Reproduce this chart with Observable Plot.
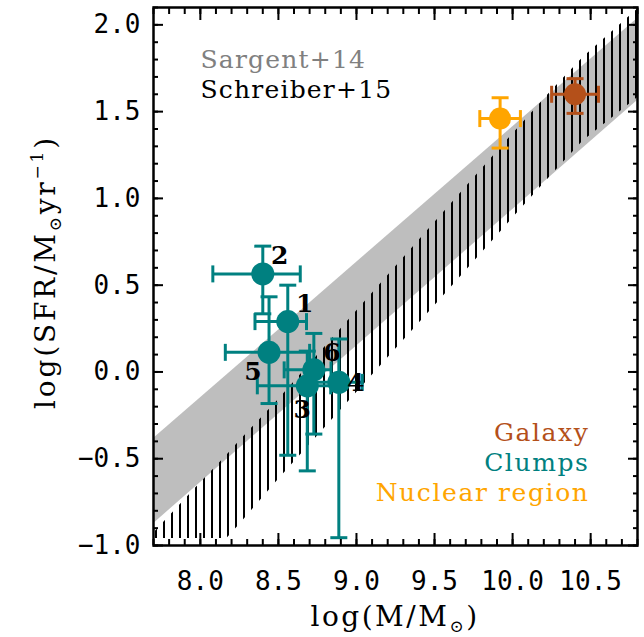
<!DOCTYPE html>
<html><head><meta charset="utf-8">
<script src="https://cdn.jsdelivr.net/npm/d3@7"></script>
<script src="https://cdn.jsdelivr.net/npm/@observablehq/plot@0.6"></script>
<style>body{margin:0;background:#fff;}</style>
</head><body><div id="chart"></div>
<script>
// ---- data ----
const clumpIds       = ["1", "2", "3", "4", "5", "6"];
const clumpMass      = [8.56, 8.40, 8.685, 8.887, 8.44, 8.727];
const clumpMassErrLo = [0.21, 0.32, 0.32, 0.15, 0.28, 0.19];
const clumpMassErrHi = [0.12, 0.24, 0.15, 0.15, 0.26, 0.11];
const clumpSFR       = [0.29, 0.565, -0.08, -0.06, 0.113, 0.012];
const clumpSFRErrLo  = [0.77, 0.23, 0.49, 0.895, 0.295, 0.37];
const clumpSFRErrHi  = [0.21, 0.16, 0.20, 0.25, 0.32, 0.21];

const galaxyMass = [10.40], galaxyMassErr = [0.15], galaxySFR = [1.60], galaxySFRErrLo = [0.11], galaxySFRErrHi = [0.09];
const nuclearMass = [9.92], nuclearMassErr = [0.13], nuclearSFR = [1.46], nuclearSFRErrLo = [0.17], nuclearSFRErrHi = [0.12];

// Sargent+14 band (straight edges)
const sargentMass = [7.7, 10.8];
const sargentLo   = [-0.874, 1.564];
const sargentHi   = [-0.384, 2.037];

// Schreiber+15 band edges
const schreiberMass = [7.70, 8.00, 8.17, 8.25, 8.50, 9.00, 9.50, 10.00, 10.25, 10.45, 10.80];
const schreiberHi   = [-0.93, -0.64, -0.48, -0.40, -0.16, 0.35, 0.86, 1.37, 1.62, 1.81, 2.09];
const schreiberLo   = [-0.96, -0.96, -0.96, -0.88, -0.62, -0.12, 0.38, 0.885, 1.135, 1.33, 1.58];

const xMajor = [8.0, 8.5, 9.0, 9.5, 10.0, 10.5];
const yMajor = [-1.0, -0.5, 0.0, 0.5, 1.0, 1.5, 2.0];
const topLegend = ["Sargent+14", "Schreiber+15"];
const bottomLegend = ["Galaxy", "Clumps", "Nuclear region"];

// ---- layout / style ----
const teal = "#008080", brown = "#b4501a", orange = "#ffa500", gray = "#bebebe";
const labelDx = [17, 17, -5, 17, -16, 18];
const labelDy = [-18, -18, 24, 1, 20, -17];
const fmt = d => d.toFixed(1).replace("-", "\u2212");
const xMinor = d3.range(77, 109).map(d => d / 10);
const yMinor = d3.range(-10, 22).map(d => d / 10);

const clumps = clumpIds.map((id, i) => ({
  id, m: clumpMass[i], s: clumpSFR[i],
  mlo: clumpMass[i] - clumpMassErrLo[i], mhi: clumpMass[i] + clumpMassErrHi[i],
  slo: clumpSFR[i] - clumpSFRErrLo[i], shi: clumpSFR[i] + clumpSFRErrHi[i]
}));
const galaxy = galaxyMass.map((m, i) => ({m, s: galaxySFR[i], mlo: m - galaxyMassErr[i], mhi: m + galaxyMassErr[i], slo: galaxySFR[i] - galaxySFRErrLo[i], shi: galaxySFR[i] + galaxySFRErrHi[i]}));
const nuclear = nuclearMass.map((m, i) => ({m, s: nuclearSFR[i], mlo: m - nuclearMassErr[i], mhi: m + nuclearMassErr[i], slo: nuclearSFR[i] - nuclearSFRErrLo[i], shi: nuclearSFR[i] + nuclearSFRErrHi[i]}));
const sargent = sargentMass.map((m, i) => ({m, lo: sargentLo[i], hi: sargentHi[i]}));
const schreiber = schreiberMass.map((m, i) => ({m, lo: schreiberLo[i], hi: schreiberHi[i]}));

const capH = {draw(ctx, size) { const r = Math.sqrt(size / Math.PI); ctx.moveTo(-r, 0); ctx.lineTo(r, 0); }};
const capV = {draw(ctx, size) { const r = Math.sqrt(size / Math.PI); ctx.moveTo(0, -r); ctx.lineTo(0, r); }};

function errorMarks(data, color, r) {
  const st = {stroke: color, strokeWidth: 3};
  return [
    Plot.ruleX(data, {x: "m", y1: "slo", y2: "shi", ...st}),
    Plot.ruleY(data, {y: "s", x1: "mlo", x2: "mhi", ...st}),
    Plot.dot(data, {x: "m", y: "slo", symbol: capH, r: 8.5, fill: "none", ...st}),
    Plot.dot(data, {x: "m", y: "shi", symbol: capH, r: 8.5, fill: "none", ...st}),
    Plot.dot(data, {x: "mlo", y: "s", symbol: capV, r: 8.5, fill: "none", ...st}),
    Plot.dot(data, {x: "mhi", y: "s", symbol: capV, r: 8.5, fill: "none", ...st}),
    Plot.dot(data, {x: "m", y: "s", r, fill: color, stroke: "none"})
  ];
}

const mono = "DejaVu Sans Mono";
const serif = "DejaVu Serif";
const blank = () => "";

const plot = Plot.plot({
  width: 644, height: 637,
  marginLeft: 153, marginRight: 7, marginTop: 7, marginBottom: 92,
  x: {domain: [7.7, 10.8], label: null},
  y: {domain: [-1.0, 2.1], label: null},
  style: {background: "white", color: "black"},
  marks: [
    Plot.areaY(sargent, {x: "m", y1: "lo", y2: "hi", fill: gray}),
    Plot.areaY(schreiber, {x: "m", y1: "lo", y2: "hi", fill: "url(#hatch)"}),
    ...errorMarks(clumps, teal, 11.5),
    ...errorMarks(nuclear, orange, 11),
    ...errorMarks(galaxy, brown, 11),
    ...clumps.map((c, i) => Plot.text([c], {x: "m", y: "s", text: "id", dx: labelDx[i], dy: labelDy[i],
      fontSize: 25, fontFamily: serif, fontWeight: "bold", fill: "black", textAnchor: "middle", lineAnchor: "middle"})),
    Plot.text([topLegend[0]], {frameAnchor: "top-left", dx: 47, dy: 60, text: d => d, lineAnchor: "bottom", textAnchor: "start",
      fontSize: 25, fontFamily: serif, fill: "#808080"}),
    Plot.text([topLegend[1]], {frameAnchor: "top-left", dx: 47, dy: 90, text: d => d, lineAnchor: "bottom", textAnchor: "start",
      fontSize: 25, fontFamily: serif, fill: "black"}),
    Plot.text([bottomLegend[0]], {frameAnchor: "bottom-right", dx: -48, dy: -105, text: d => d, lineAnchor: "bottom", textAnchor: "end",
      fontSize: 25, fontFamily: serif, fill: brown}),
    Plot.text([bottomLegend[1]], {frameAnchor: "bottom-right", dx: -48, dy: -75, text: d => d, lineAnchor: "bottom", textAnchor: "end",
      fontSize: 25, fontFamily: serif, fill: teal}),
    Plot.text([bottomLegend[2]], {frameAnchor: "bottom-right", dx: -48, dy: -45, text: d => d, lineAnchor: "bottom", textAnchor: "end",
      fontSize: 25, fontFamily: serif, fill: orange}),
    // axes: inward ticks on all four sides
    Plot.axisX(xMajor, {anchor: "bottom", tickSize: -12, tickPadding: 38, tickFormat: fmt, fontSize: 26, fontFamily: mono, strokeWidth: 2, label: null}),
    Plot.axisX(xMinor, {anchor: "bottom", tickSize: -6, tickFormat: blank, strokeWidth: 2, label: null}),
    Plot.axisX(xMajor, {anchor: "top", tickSize: -12, tickFormat: blank, strokeWidth: 2, label: null}),
    Plot.axisX(xMinor, {anchor: "top", tickSize: -6, tickFormat: blank, strokeWidth: 2, label: null}),
    Plot.axisY(yMajor, {anchor: "left", tickSize: -10, tickPadding: 23, tickFormat: fmt, fontSize: 26, fontFamily: mono, strokeWidth: 2, label: null}),
    Plot.axisY(yMinor, {anchor: "left", tickSize: -5, tickFormat: blank, strokeWidth: 2, label: null}),
    Plot.axisY(yMajor, {anchor: "right", tickSize: -10, tickFormat: blank, strokeWidth: 2, label: null}),
    Plot.axisY(yMinor, {anchor: "right", tickSize: -5, tickFormat: blank, strokeWidth: 2, label: null}),
    Plot.frame({stroke: "black", strokeWidth: 2.5})
  ]
});

const svg = d3.select(plot);
const defs = svg.insert("defs", ":first-child");
const pat = defs.append("pattern").attr("id", "hatch").attr("patternUnits", "userSpaceOnUse")
  .attr("width", 8).attr("height", 8);
pat.append("rect").attr("x", 3).attr("y", 0).attr("width", 2).attr("height", 8).attr("fill", "black");

svg.selectAll("text").each(function () {
  const t = this.textContent;
  if (topLegend.includes(t)) this.style.letterSpacing = "1.2px";
  if (bottomLegend.includes(t)) this.style.letterSpacing = "1.6px";
});

// axis titles with sub/superscripts
const xt = svg.append("text").attr("x", 395).attr("y", 626).attr("text-anchor", "middle")
  .attr("font-family", serif).attr("font-size", 28).style("letter-spacing", "2.5px").attr("fill", "black");
xt.append("tspan").text("log(M/M");
xt.append("tspan").attr("font-size", 17).attr("dy", 6).text("\u2299");
xt.append("tspan").attr("dy", -6).text(")");

const yt = svg.append("text").attr("transform", "translate(55,272) rotate(-90)").attr("text-anchor", "middle")
  .attr("font-family", serif).attr("font-size", 28).style("letter-spacing", "2.8px").attr("fill", "black");
yt.append("tspan").text("log(SFR/M");
yt.append("tspan").attr("font-size", 17).attr("dy", 6).text("\u2299");
yt.append("tspan").attr("dy", -6).text("yr");
yt.append("tspan").attr("font-size", 17).attr("dy", -12).text("\u22121");
yt.append("tspan").attr("dy", 12).text(")");

document.getElementById("chart").appendChild(plot);
</script>
</body></html>
